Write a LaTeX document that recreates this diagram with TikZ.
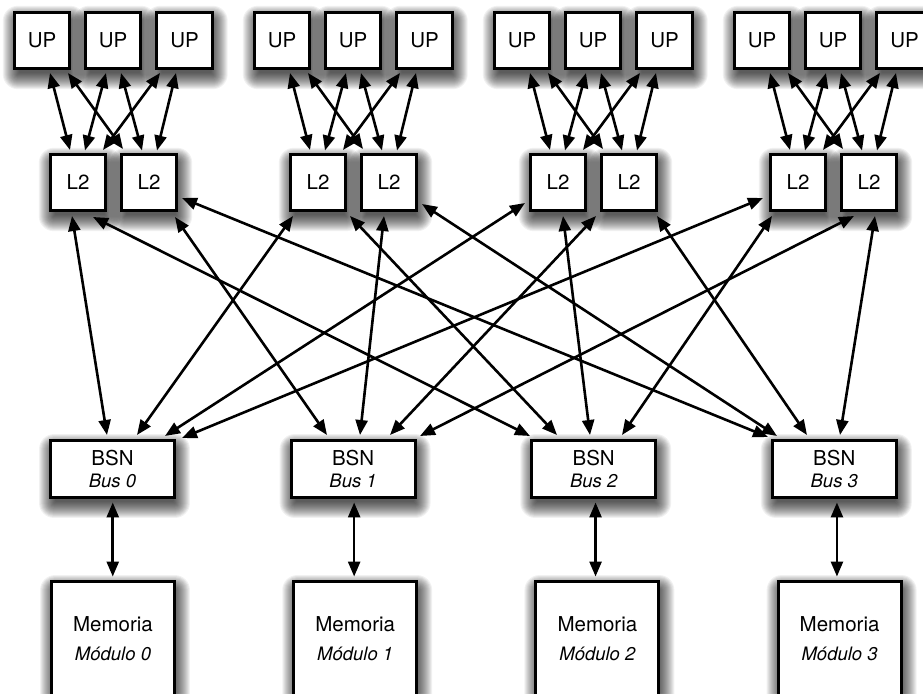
\documentclass[tikz,border=0pt]{standalone}
\usepackage{fontspec}
\setmainfont{TeX Gyre Heros}
\usetikzlibrary{arrows.meta,calc,backgrounds}
\begin{document}
\begin{tikzpicture}[x=1pt,y=-1pt]
\tikzset{
  box/.style={draw, line width=2.9pt, fill=white, minimum width=55.5pt,
    minimum height=56.5pt, inner sep=0pt,
    font=\fontsize{20.5}{22}\selectfont},
  bsnbox/.style={box, minimum width=124pt, minimum height=57pt, align=center},
  membox/.style={box, minimum width=123pt, minimum height=114pt, align=center},
  shadowlayer/.style={fill=black, fill opacity=0.055},
  link/.style={line width=2.6pt,
    {Triangle[length=15pt,width=12pt]}-{Triangle[length=15pt,width=12pt]}},
}
\useasboundingbox (0,0) rectangle (923,693);
\clip (0,0) rectangle (923,693);

% processors and L2 caches, four groups
\foreach \g in {0,...,3}{
  \node[box] (ua\g) at ({240*\g+42},40.5) {UP};
  \node[box] (ub\g) at ({240*\g+113},40.5) {UP};
  \node[box] (uc\g) at ({240*\g+184.5},40.5) {UP};
  \node[box] (la\g) at ({240*\g+78},182.5) {L2};
  \node[box] (lb\g) at ({240*\g+149},182.5) {L2};
}

% bus snoop nodes and memory modules
\foreach \g in {0,...,3}{
  \node[bsnbox] (bsn\g) at ({112.5+240.6*\g},469)
    {BSN\\{\fontsize{18.5}{22}\selectfont\itshape Bus \g}};
  \node[membox] (mem\g) at ({113+242.2*\g},638.5)
    {Memoria\\[7pt]{\fontsize{18.5}{22}\selectfont\itshape Módulo \g}};
}

% soft drop shadows: stacked translucent layers under every box
\begin{pgfonlayer}{background}
  \fill[white] (0,0) rectangle (923,693);
  \foreach \g in {0,...,3}{
    \foreach \k in {ua,ub,uc,la,lb,bsn,mem}{
      \foreach \e in {-4,-3,...,12}{
        \pgfmathsetmacro\rr{max(\e+3,1)}
        \fill[shadowlayer, rounded corners=\rr pt]
          ([shift={(2-\e,7-\e)}]\k\g.north west) rectangle
          ([shift={(2+\e,7+\e)}]\k\g.south east);
      }
    }
  }
\end{pgfonlayer}

% processor <-> L2 links inside each group
\foreach \g in {0,...,3}{
  \draw[link] ([shift={(8,32.5)}]ua\g.center) -- ([shift={(-8,-32.5)}]la\g.center);
  \draw[link] ([shift={(26,32.5)}]ua\g.center) -- ([shift={(-26,-33.5)}]lb\g.center);
  \draw[link] ([shift={(-7,32.5)}]ub\g.center) -- ([shift={(7,-32)}]la\g.center);
  \draw[link] ([shift={(8,32.5)}]ub\g.center) -- ([shift={(-7,-32)}]lb\g.center);
  \draw[link] ([shift={(-24.5,32.5)}]uc\g.center) -- ([shift={(25,-32.5)}]la\g.center);
  \draw[link] ([shift={(-8.5,32.5)}]uc\g.center) -- ([shift={(8,-32)}]lb\g.center);
}

% L2 <-> bus links
\foreach \s/\sx/\sy/\t/\tx/\ty in {
  la0/-6/33.5/bsn0/-5.5/-34,
  la0/15/34.5/bsn2/-63.7/-33,
  lb0/26/34.5/bsn1/-26.1/-34,
  lb0/33/15.5/bsn3/-66.3/-32,
  la1/-25/33.5/bsn0/24.5/-34,
  la1/32/33.5/bsn2/-36.7/-34,
  lb1/-5/33.5/bsn1/6.9/-34,
  lb1/33/21.5/bsn3/-57.3/-33,
  la2/-33/20.5/bsn0/52.5/-33,
  la2/5/33.5/bsn2/-3.7/-34,
  lb2/-33/33.5/bsn1/36.9/-34,
  lb2/28/33.5/bsn3/-27.3/-34,
  la3/-35/15.5/bsn0/69.5/-31,
  la3/-26/33.5/bsn2/28.3/-34,
  lb3/-15/33.5/bsn1/66.9/-33,
  lb3/6/33.5/bsn3/5.7/-34}{
  \draw[link] ([shift={(\sx,\sy)}]\s.center) -- ([shift={(\tx,\ty)}]\t.center);
}

% bus <-> memory links
\foreach \g in {0,...,3}{
  \coordinate (mid\g) at ($(bsn\g.south)!0.5!(mem\g.north)$);
  \draw[link] ([yshift=-3.5pt]mid\g |- bsn\g.south) -- ([yshift=3.5pt]mid\g |- mem\g.north);
}
\end{tikzpicture}
\end{document}
